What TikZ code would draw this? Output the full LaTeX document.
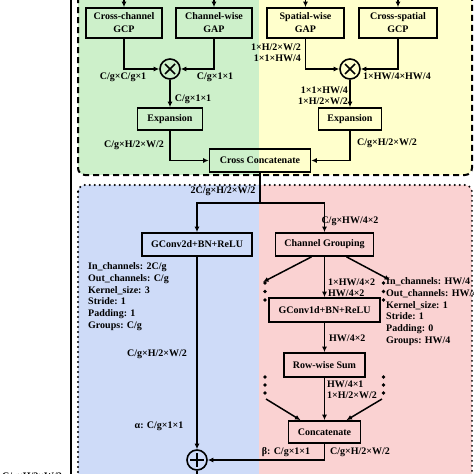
\documentclass[tikz,border=0pt]{standalone}
\usepackage{fontspec}
\setmainfont{Liberation Serif}
\usetikzlibrary{arrows.meta,calc}

\definecolor{gfill}{RGB}{205,240,202}
\definecolor{yfill}{RGB}{255,255,204}
\definecolor{bfill}{RGB}{206,219,248}
\definecolor{pfill}{RGB}{250,210,210}

\tikzset{
	blk/.style={draw, line width=1.7pt, inner sep=1pt, align=center, font=\fontsize{10}{13}\selectfont\bfseries},
	lbl/.style={inner sep=0pt, align=left, font=\fontsize{10}{11}\selectfont\bfseries},
	pars/.style={inner sep=0pt, align=left, anchor=west, font=\fontsize{10}{11.7}\selectfont\bfseries},
	arr/.style={line width=1.5pt, -{Latex[length=5.5pt,width=5pt]}},
	wire/.style={line width=1.5pt},
	op/.style={draw, circle, line width=1.6pt, minimum size=20pt, inner sep=0pt},
}

\begin{document}
\begin{tikzpicture}[x=1pt, y=-1pt]
			\useasboundingbox (0,0) rectangle (474,474);
			% backgrounds
			\begin{scope}
				\clip[rounded corners=7pt] (78,-20) rectangle (472,175);
				\fill[gfill] (78,-20) rectangle (259,175);
				\fill[yfill] (259,-20) rectangle (472,175);
			\end{scope}
			\draw[line width=2pt, dash pattern=on 6pt off 4pt, rounded corners=7pt] (78,-20) rectangle (472,175);
			\begin{scope}
				\clip[rounded corners=7pt] (78,185) rectangle (472,490);
				\fill[bfill] (78,185) rectangle (259,490);
				\fill[pfill] (259,185) rectangle (472,490);
			\end{scope}
			\draw[line width=2.2pt, line cap=round, dash pattern=on 0pt off 5pt, rounded corners=7pt] (78,185) rectangle (472,490);
			% outer frame
			\draw[line width=1.6pt] (71,-10) -- (71,490);

			% pooling blocks
			\node[blk, minimum width=76pt, minimum height=30pt] (GCPc) at (124,23) {Cross-channel\\GCP};
			\node[blk, minimum width=76pt, minimum height=30pt] (GAPc) at (214,23) {Channel-wise\\GAP};
			\node[blk, minimum width=77pt, minimum height=30pt] (GAPs) at (305.5,23) {Spatial-wise\\GAP};
			\node[blk, minimum width=78pt, minimum height=30pt] (GCPs) at (398,23) {Cross-spatial\\GCP};
			\coordinate (inA) at (124,-2);
			\coordinate (inB) at (214,-2);
			\coordinate (inC) at (305.5,-2);
			\coordinate (inD) at (398,-2);

			% products
			\node[op] (mulG) at (170,69) {};
			\node[op] (mulY) at (350,69) {};
			\foreach \m in {mulG, mulY} {
				\draw[wire] ($(\m)+(-5,-5)$) -- ($(\m)+(5,5)$);
				\draw[wire] ($(\m)+(-5,5)$) -- ($(\m)+(5,-5)$);
			}

			\node[blk, minimum width=65pt, minimum height=22pt] (expG) at (170,119) {Expansion};
			\node[blk, minimum width=63pt, minimum height=22pt] (expY) at (350,119) {Expansion};
			\node[blk, minimum width=101pt, minimum height=23pt] (ccat) at (260,160.5) {Cross Concatenate};

			% lower part
			\node[blk, minimum width=110pt, minimum height=23pt] (gc2d) at (197,244.5) {GConv2d+BN+ReLU};
			\node[blk, minimum width=98pt, minimum height=23pt] (cgrp) at (324.5,244.5) {Channel Grouping};
			\node[blk, minimum width=111pt, minimum height=24pt] (gc1d) at (324.5,310) {GConv1d+BN+ReLU};
			\node[blk, minimum width=81pt, minimum height=24pt] (rsum) at (324.5,365) {Row-wise Sum};
			\node[blk, minimum width=72pt, minimum height=22pt] (conc) at (324.5,432) {Concatenate};
			\node[op] (add) at (197,460) {};
			\draw[wire] ($(add)+(-7,0)$) -- ($(add)+(7,0)$);
			\draw[wire] ($(add)+(0,-7)$) -- ($(add)+(0,7)$);

			% connectors
			\draw[arr] (inA) -- (GCPc);
			\draw[arr] (inB) -- (GAPc);
			\draw[arr] (inC) -- (GAPs);
			\draw[arr] (inD) -- (GCPs);
			\draw[arr] (GCPc) |- (mulG);
			\draw[arr] (GAPc) |- (mulG);
			\draw[arr] (GAPs) |- (mulY);
			\draw[arr] (GCPs) |- (mulY);
			\draw[arr] (mulG) -- (expG);
			\draw[arr] (mulY) -- (expY);
			\draw[arr] (expG) |- (ccat);
			\draw[arr] (expY) |- (ccat);

			\coordinate (split) at (ccat.south |- 0,203);
			\draw[wire] (ccat) -- (split);
			\draw[arr] (split) -| (gc2d);
			\draw[arr] (split) -| (cgrp);
			\draw[arr] (gc2d) -- (add);
			\draw[arr] (cgrp) -- (gc1d);
			\coordinate (dL1) at (263,282);
			\coordinate (dR1) at (390,280);
			\draw[arr] ($(cgrp.south)+(-13,0)$) -- (dL1);
			\draw[arr] ($(cgrp.south)+(22,0)$) -- (dR1);
			\draw[arr] (gc1d) -- (rsum);
			\draw[arr] (rsum) -- (conc);
			\coordinate (dL2) at (266,399);
			\coordinate (dR2) at (382,399);
			\draw[arr] (dL2) -- ($(conc.north)+(-24,0)$);
			\draw[arr] (dR2) -- ($(conc.north)+(22,0)$);
			\draw[arr] (conc) |- (add);
			\coordinate (outB) at (197,482);
			\draw[wire] (add) -- (outB);

			% dots
			\foreach \y in {283, 291.5, 300, 377, 385, 393} {
				\fill (265,\y) circle (1.9pt);
				\fill (383.5,\y) circle (1.9pt);
			}

			% labels
			\node[lbl] (l1) at (123,77) {C/g×C/g×1};
			\node[lbl] (l2) at (215,77) {C/g×1×1};
			\node[lbl] (l3) at (193,99) {C/g×1×1};
			\node[lbl] (l4) at (134,145) {C/g×H/2×W/2};
			\node[lbl, align=right] (l5) at (276,52.5) {1×H/2×W/2\\1×1×HW/4};
			\node[lbl] (l6) at (397,76) {1×HW/4×HW/4};
			\node[lbl, align=right] (l7) at (323,95.5) {1×1×HW/4\\1×H/2×W/2};
			\node[lbl] (l8) at (387,143) {C/g×H/2×W/2};
			\node[lbl] (l9) at (223,191.5) {2C/g×H/2×W/2};
			\node[lbl] (l10) at (350,221) {C/g×HW/4×2};
			\node[pars] (parL) at (88,296.5) {In\_channels: 2C/g\\Out\_channels: C/g\\Kernel\_size: 3\\Stride: 1\\Padding: 1\\Groups: C/g};
			\node[lbl] (l11) at (157,354) {C/g×H/2×W/2};
			\node[lbl] (l12) at (159,426) {α: C/g×1×1};
			\node[lbl, anchor=west] (l13) at (328,287.5) {1×HW/4×2\\HW/4×2};
			\node[pars] (parR) at (386,311.5) {In\_channels: HW/4\\Out\_channels: HW/4\\Kernel\_size: 1\\Stride: 1\\Padding: 0\\Groups: HW/4};
			\node[lbl, anchor=west] (l14) at (329,338) {HW/4×2};
			\node[lbl, anchor=west] (l15) at (327,390) {HW/4×1\\1×H/2×W/2};
			\node[lbl] (l16) at (286,452) {β: C/g×1×1};
			\node[lbl] (l17) at (360,452) {C/g×H/2×W/2};
			\node[lbl, anchor=east] (l18) at (62,477) {C/g×H/2×W/2};
\end{tikzpicture}
\end{document}
